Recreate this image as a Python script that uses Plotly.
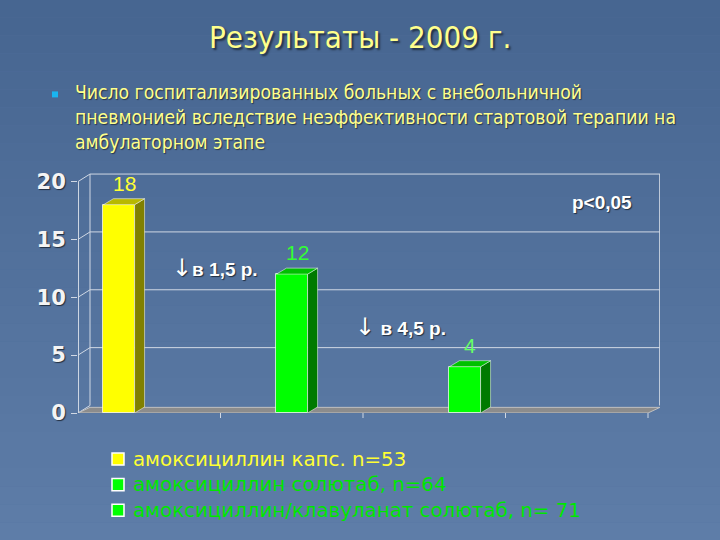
import plotly.graph_objects as go

# ---- data ----
categories = ["амоксициллин капс. n=53",
              "амоксициллин солютаб, n=64",
              "амоксициллин/клавуланат солютаб, n= 71"]
values = [18, 12, 4]
value_labels = ["18", "12", "4"]
front_colors = ["#ffff00", "#00ff00", "#00ff00"]
side_colors = ["#808000", "#007a00", "#007a00"]
top_colors = ["#b8b800", "#00c000", "#00c000"]
label_colors = ["#ffff33", "#33ff33", "#66ff66"]
legend_colors = ["#ffff33", "#00e600", "#00e600"]
y_ticks = [0, 5, 10, 15, 20]
title_text = "Результаты - 2009 г."
bullet_lines = ["Число госпитализированных больных с внебольничной",
                "пневмонией вследствие неэффективности стартовой терапии на",
                "амбулаторном этапе"]
ratio_labels = ["в 1,5 р.", " в 4,5 р."]
p_label = "p<0,05"

W, H = 720, 540
unit = 11.55                      # px per y unit
y_top = 21.0
L, R, B = 78, 60, 127
T = H - B - unit * y_top
pw, ph = W - L - R, H - T - B

def px(x):
    return (x - L) / pw

def py(y):
    return (H - B - y) / ph

xpos = list(range(len(values)))
bar_w = 0.18
slot = 173.0
x_lo = (L - 119) / slot
x_hi = x_lo + pw / slot
bdx, bdy = 10 / slot, 6 / unit          # bar depth
wdx, wdy = 12 / slot, 7.5 / unit        # wall depth
grid_c = "#d0d8e4"

fig = go.Figure()
for i, (c, v) in enumerate(zip(categories, values)):
    fig.add_trace(go.Bar(
        x=[xpos[i]], y=[v], width=bar_w, name=c,
        marker=dict(color=front_colors[i], line=dict(color="rgba(255,255,255,0.7)", width=1)),
        showlegend=False,
    ))

shapes = []
# background gradient
n_bands = 30
for k in range(n_bands):
    t = k / (n_bands - 1)
    r = int(0x47 + (0x5e - 0x47) * t)
    g = int(0x66 + (0x7d - 0x66) * t)
    b = int(0x91 + (0xa8 - 0x91) * t)
    shapes.append(dict(type="rect", xref="paper", yref="paper",
                       x0=px(0), x1=px(W), y0=py(H * k / n_bands), y1=py(H * (k + 1) / n_bands),
                       fillcolor="rgb(%d,%d,%d)" % (r, g, b), line=dict(width=0), layer="below"))
# back wall grid + perspective ticks
gl = dict(color=grid_c, width=1)
for v in y_ticks:
    if v > 0:
        shapes.append(dict(type="line", xref="x", yref="y", x0=x_lo + wdx, x1=x_hi, y0=v + wdy, y1=v + wdy,
                           line=gl, layer="between"))
    shapes.append(dict(type="line", xref="x", yref="y", x0=x_lo, x1=x_lo + wdx, y0=v, y1=v + wdy,
                       line=gl, layer="between"))
shapes.append(dict(type="line", xref="x", yref="y", x0=x_lo + wdx, x1=x_lo + wdx, y0=wdy, y1=y_ticks[-1] + wdy,
                   line=gl, layer="between"))
shapes.append(dict(type="line", xref="x", yref="y", x0=x_hi - 0.002, x1=x_hi - 0.002, y0=wdy, y1=y_ticks[-1] + wdy,
                   line=gl, layer="between"))
# floor
shapes.append(dict(type="path", xref="x", yref="y",
                   path="M %f,0 L %f,%f L %f,%f L %f,0 Z" % (x_lo, x_lo + wdx, wdy * 0.75, x_hi, wdy * 0.75, x_hi - wdx),
                   fillcolor="#8c8c8c", line=dict(color="#c0c0c0", width=1), layer="between"))
# front axis line
shapes.append(dict(type="line", xref="x", yref="y", x0=x_lo + 0.003, x1=x_lo + 0.003, y0=0, y1=y_ticks[-1],
                   line=gl))
# bottom separator ticks
for k in range(1, 5):
    shapes.append(dict(type="line", xref="paper", yref="paper", x0=k * (1 - wdx / (x_hi - x_lo)) / 4,
                       x1=k * (1 - wdx / (x_hi - x_lo)) / 4, y0=0, y1=py(H - B + 5), line=gl))
# 3D faces
for i, v in enumerate(values):
    xl = xpos[i] - bar_w / 2
    xr = xpos[i] + bar_w / 2
    shapes.append(dict(type="path", xref="x", yref="y",
                       path="M %f,0 L %f,%f L %f,%f L %f,%f Z" % (xr, xr + bdx, bdy, xr + bdx, v + bdy, xr, v),
                       fillcolor=side_colors[i], line=dict(color="rgba(255,255,255,0.5)", width=1), layer="above"))
    shapes.append(dict(type="path", xref="x", yref="y",
                       path="M %f,%f L %f,%f L %f,%f L %f,%f Z" % (xl, v, xl + bdx, v + bdy, xr + bdx, v + bdy, xr, v),
                       fillcolor=top_colors[i], line=dict(color="rgba(255,255,255,0.5)", width=1), layer="above"))
# bullet square
shapes.append(dict(type="rect", xref="paper", yref="paper",
                   x0=px(52), x1=px(58), y0=py(98), y1=py(92),
                   fillcolor="#19b5f0", line=dict(width=0)))

ann = []
shadow = "2px 2px 2px rgba(0,0,0,0.55)"
ann.append(dict(text=title_text, xref="paper", yref="paper", x=px(360), y=py(38),
                showarrow=False, xanchor="center", yanchor="middle",
                font=dict(family="DejaVu Sans Condensed", size=31, color="#ffff8c", shadow=shadow)))
for j, line in enumerate(bullet_lines):
    ann.append(dict(text=line, xref="paper", yref="paper", x=px(73), y=py(93 + 25 * j),
                    showarrow=False, xanchor="left", yanchor="middle",
                    font=dict(family="DejaVu Sans Condensed", size=19.2, color="#ffff8c",
                              shadow="1px 1px 1px rgba(0,0,0,0.5)")))
for i, v in enumerate(values):
    ann.append(dict(text=value_labels[i], x=xpos[i] + bdx / 2, y=v + bdy, xref="x", yref="y",
                    showarrow=False, xanchor="center", yanchor="bottom", yshift=2,
                    font=dict(family="Liberation Sans", size=21, color=label_colors[i])))
lab_font = dict(family="Liberation Sans", size=19, color="white", weight="bold",
                shadow="1px 1px 1px rgba(0,0,0,0.6)")
arrow = "<span style='font-size:24px;font-weight:normal;font-family:DejaVu Sans'>\u2193</span>"
ann.append(dict(text=arrow + ratio_labels[0], xref="paper", yref="paper", x=px(170), y=py(268),
                showarrow=False, xanchor="left", yanchor="middle", font=lab_font))
ann.append(dict(text=arrow + ratio_labels[1], xref="paper", yref="paper", x=px(353), y=py(327),
                showarrow=False, xanchor="left", yanchor="middle", font=lab_font))
ann.append(dict(text=p_label, xref="paper", yref="paper", x=px(570), y=py(203),
                showarrow=False, xanchor="left", yanchor="middle", font=lab_font))

# manual legend
for i, c in enumerate(categories):
    yc = 459 + 25.5 * i
    shapes.append(dict(type="rect", xref="paper", yref="paper",
                       x0=px(112), x1=px(124), y0=py(yc + 6), y1=py(yc - 6),
                       fillcolor=front_colors[i], line=dict(color="white", width=1.5)))
    ann.append(dict(text=c, xref="paper", yref="paper", x=px(131), y=py(yc),
                    showarrow=False, xanchor="left", yanchor="middle",
                    font=dict(family="DejaVu Sans", size=19.8, color=legend_colors[i])))

fig.update_layout(
    width=W, height=H,
    margin=dict(l=L, r=R, t=T, b=B, pad=0),
    paper_bgcolor="#52719c", plot_bgcolor="rgba(0,0,0,0)",
    shapes=shapes, annotations=ann, bargap=0, showlegend=False,
    xaxis=dict(range=[x_lo, x_hi], showticklabels=False, showgrid=False, zeroline=False,
               showline=False, fixedrange=True),
    yaxis=dict(range=[0, y_top], tickvals=y_ticks, showgrid=False, zeroline=False, showline=False,
               ticks="outside", ticklen=6, tickcolor=grid_c, tickwidth=1, ticklabelstandoff=1,
               tickfont=dict(family="DejaVu Sans", size=21, color="#f4f4f4", weight="bold",
                             shadow="1px 1px 1px rgba(0,0,0,0.6)")),
)
fig.write_html("out.html", config={"displayModeBar": False},
               post_script="document.body.style.margin='0';")
